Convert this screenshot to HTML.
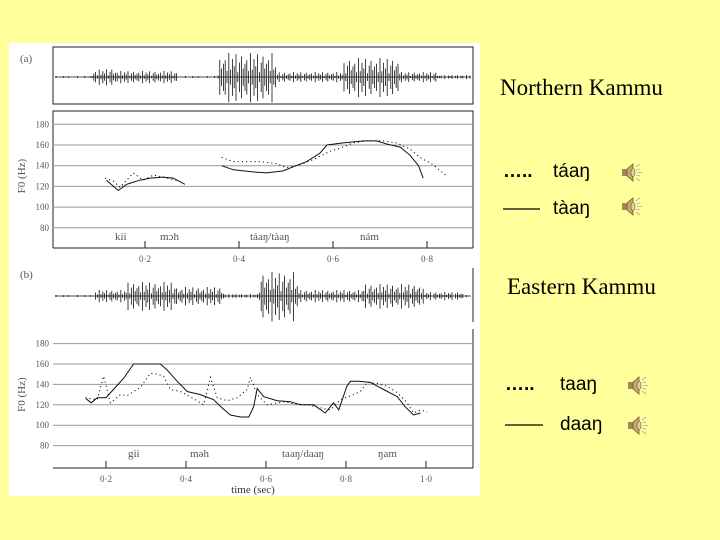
<!DOCTYPE html>
<html><head><meta charset="utf-8"><style>
body{margin:0;width:720px;height:540px;background:#ffff9c;overflow:hidden;position:relative;font-family:"Liberation Sans",sans-serif}
svg{position:absolute;left:0;top:0}
</style></head><body>
<svg width="720" height="540">
<rect x="9" y="43" width="471" height="453" fill="#fff"/>
<g id="fig"></g>
<g font-family="Liberation Serif,serif" fill="#000">
<text x="500" y="95" font-size="23">Northern Kammu</text>
<text x="507" y="294" font-size="23">Eastern Kammu</text>
</g>
<g font-family="Liberation Sans,sans-serif" font-size="19" fill="#000">
<text x="503" y="177" font-weight="bold">…..</text>
<text x="553" y="177">táaŋ</text>
<line x1="503" y1="209" x2="540" y2="209" stroke="#000" stroke-width="1.2"/>
<text x="553" y="214">tàaŋ</text>
<text x="505" y="390" font-weight="bold">…..</text>
<text x="560" y="390">taaŋ</text>
<line x1="505" y1="425" x2="543" y2="425" stroke="#000" stroke-width="1.2"/>
<text x="560" y="430">daaŋ</text>
</g>
<g id="spk"></g>
</svg>
<script>
// Panel A F0 data (time sec, Hz)
const aSolidT1=[0.118,0.143,0.161,0.189,0.211,0.239,0.260,0.285];
const aSolidV1=[126,116,122,126,128,129,128,122];
const aDotT1=[0.115,0.133,0.147,0.175,0.196,0.218,0.246,0.267];
const aDotV1=[128,125,119,133,126,131,128,126];
const aSolidT2=[0.363,0.388,0.430,0.459,0.494,0.516,0.544,0.572,0.587,0.622,0.665,0.693,0.714,0.743,0.764,0.782,0.792];
const aSolidV2=[140,136,134,133,135,139,144,152,160,162,164,164,161,158,150,140,128];
const aDotT2=[0.363,0.388,0.445,0.480,0.501,0.530,0.558,0.594,0.615,0.643,0.672,0.707,0.735,0.764,0.785,0.813,0.842];
const aDotV2=[148,144,144,142,138,141,146,154,157,162,164,164,162,156,148,141,130];
// Panel B F0 data
const bSolidT=[0.15,0.163,0.178,0.2,0.223,0.244,0.269,0.336,0.353,0.378,0.403,0.436,0.469,0.49,0.511,0.536,0.557,0.569,0.578,0.594,0.628,0.661,0.686,0.719,0.748,0.769,0.782,0.802,0.811,0.832,0.861,0.894,0.928,0.948,0.969,0.986];
const bSolidV=[126,122,127,127,137,146,160,160,154,143,133,130,125,117,110,108,108,118,136,128,124,123,120,120,112,122,115,138,143,143,142,135,128,118,110,112];
const bDotT=[0.148,0.178,0.194,0.211,0.236,0.253,0.286,0.311,0.328,0.344,0.361,0.386,0.419,0.444,0.461,0.478,0.503,0.528,0.553,0.561,0.578,0.603,0.644,0.669,0.703,0.736,0.761,0.786,0.819,0.836,0.853,0.878,0.903,0.928,0.953,0.969,0.986,1.003];
const bDotV=[127,125,148,122,130,129,137,151,150,148,135,133,126,120,147,127,124,127,135,147,130,120,123,121,120,117,115,125,130,133,142,141,138,132,122,112,115,113];
const yTicks=[180,160,140,120,100,80];
const aXTicks=[0.2,0.4,0.6,0.8];
const bXTicks=[0.2,0.4,0.6,0.8,1.0];
// waveform envelopes (time sec, amplitude px)
const aEnvT=[0.0,0.085,0.092,0.135,0.140,0.265,0.272,0.355,0.36,0.475,0.48,0.62,0.625,0.74,0.745,0.82,0.825,0.905];
const aEnvV=[1,1,7,9,6,6,1,1,24,24,5,5,19,19,5,5,2,2];
const bEnvT=[0.06,0.17,0.175,0.25,0.255,0.37,0.375,0.49,0.495,0.58,0.585,0.675,0.68,0.84,0.845,0.99,0.995,1.09,1.095,1.14];
const bEnvV=[1,1,6,6,14,14,9,9,2,2,24,24,6,6,12,12,4,4,1,1];

const NS="http://www.w3.org/2000/svg";
const fig=document.getElementById('fig');
function mk(tag,attrs,parent){const e=document.createElementNS(NS,tag);for(const k in attrs)e.setAttribute(k,attrs[k]);(parent||fig).appendChild(e);return e;}
function txt(x,y,s,size,anchor){const t=mk('text',{x:x,y:y,'font-size':size,'font-family':'Liberation Serif,serif','text-anchor':anchor||'start',fill:'#555'});t.textContent=s;return t;}

const panels=[
 {xs:t=>145+(t-0.2)*470, ys:v=>145-(v-160)*1.035, waveY:77, boxTop:47, boxBot:104, f0Top:111, axis:248, ticks:aXTicks, env:[aEnvT,aEnvV], label:'(a)', labY:62,
  series:[[aSolidT1,aSolidV1,0],[aDotT1,aDotV1,1],[aSolidT2,aSolidV2,0],[aDotT2,aDotV2,1]],
  words:[['kii',115],['mɔh',160],['táaŋ/tàaŋ',250],['nám',360]], wordY:240, fullBox:true, name:'a'},
 {xs:t=>106+(t-0.2)*400, ys:v=>364-(v-160)*1.02, waveY:296, boxTop:268, boxBot:322, f0Top:329, axis:468, ticks:bXTicks, env:[bEnvT,bEnvV], label:'(b)', labY:278,
  series:[[bSolidT,bSolidV,0],[bDotT,bDotV,1]],
  words:[['gii',128],['məh',190],['taaŋ/daaŋ',282],['ŋam',378]], wordY:457, fullBox:false, name:'b'}
];
function interp(T,V,t){if(t<=T[0])return V[0];for(let i=1;i<T.length;i++)if(t<=T[i]){const f=(t-T[i-1])/(T[i]-T[i-1]);return V[i-1]+f*(V[i]-V[i-1]);}return V[V.length-1];}
const pat=[1,0.3,0.75,0.45,0.95,0.2,0.6,0.85,0.35,0.55,0.7,0.25];
panels.forEach(p=>{
 const g=mk('g',{});
 
 
 const lab=txt(20,p.labY,p.label,11);
 
 
 if(p.fullBox){
  const b=mk('rect',{x:53,y:p.boxTop,width:420,height:p.boxBot-p.boxTop,fill:'none',stroke:'#222','stroke-width':1});
  
  
  const f=mk('polyline',{points:`53,${p.axis} 53,${p.f0Top} 473,${p.f0Top} 473,${p.axis}`,fill:'none',stroke:'#222'});
  
  
 } else {
  mk('line',{x1:473,y1:p.boxTop,x2:473,y2:p.boxBot,stroke:'#222'});
  const f=mk('line',{x1:473,y1:p.f0Top,x2:473,y2:p.axis,stroke:'#222'});
  
  
 }
 let d=`M55,${p.waveY}H471`;
 let k=0;
 for(let x=56;x<471;x+=1.8){const tt=(x-(p.name=='a'?145:106))/(p.name=='a'?470:400)+0.2;const a=interp(p.env[0],p.env[1],tt)*pat[k%pat.length];k++;if(a>0.8)d+=`M${x.toFixed(1)},${(p.waveY-a).toFixed(1)}V${(p.waveY+a*1.05).toFixed(1)}`;}
 const w=mk('path',{d:d,stroke:'#111','stroke-width':0.8,fill:'none'});
 
 
 yTicks.forEach(v=>{
  const y=p.ys(v);
  const gl=mk('line',{x1:53,y1:y,x2:473,y2:y,stroke:'#999','stroke-width':1});
  
  
  const tl=txt(49,y+3,String(v),9,'end');
  
  
 });
 const yt=txt(0,0,'F0 (Hz)',11,'middle');
 yt.setAttribute('transform',`translate(25,${p.ys(130)}) rotate(-90)`);
 
 
 const ax=mk('line',{x1:53,y1:p.axis,x2:473,y2:p.axis,stroke:'#222'});
 
 
 p.ticks.forEach(t=>{
  const x=p.xs(t);
  mk('line',{x1:x,y1:p.axis-7,x2:x,y2:p.axis,stroke:'#222'});
  const tl=txt(x,p.axis+14,t.toFixed(1).replace('.','·'),9,'middle');
  
  
 });
 p.words.forEach(wd=>{
  const t=txt(wd[1],p.wordY,wd[0],11,'start');
  
  
 });
 p.series.forEach((s,i)=>{
  const pts=s[0].map((t,j)=>p.xs(t).toFixed(1)+','+p.ys(s[1][j]).toFixed(1)).join(' ');
  const pl=mk('polyline',{points:pts,fill:'none',stroke:'#111','stroke-width':1,'stroke-dasharray':s[2]?'1.2,3':'none'});
  
  
 });
});
const xt=txt(253,493,'time (sec)',11,'middle');


xt.setAttribute('fill','#333');
const spk=document.getElementById('spk');
[[622,163],[622,197],[628,376],[628,416]].forEach((c,i)=>{
 const g=document.createElementNS(NS,'g');
 g.setAttribute('transform',`translate(${c[0]},${c[1]})`);
 
 
 g.innerHTML='<rect x="0" y="6" width="5" height="7" fill="#a08858"/><polygon points="5,6 11,1 11,18 5,13" fill="#c8a868" stroke="#705838" stroke-width="0.8"/><ellipse cx="11" cy="9.5" rx="2" ry="4" fill="#e0d0a0" stroke="#705838" stroke-width="0.6"/><path d="M14,4 l4,-3 M15,9.5 h5 M14,15 l4,3 M14,7 l4,-1 M14,12 l4,1" stroke="#aaa" stroke-width="0.8"/>';
 spk.appendChild(g);
});
</script>
</body></html>
